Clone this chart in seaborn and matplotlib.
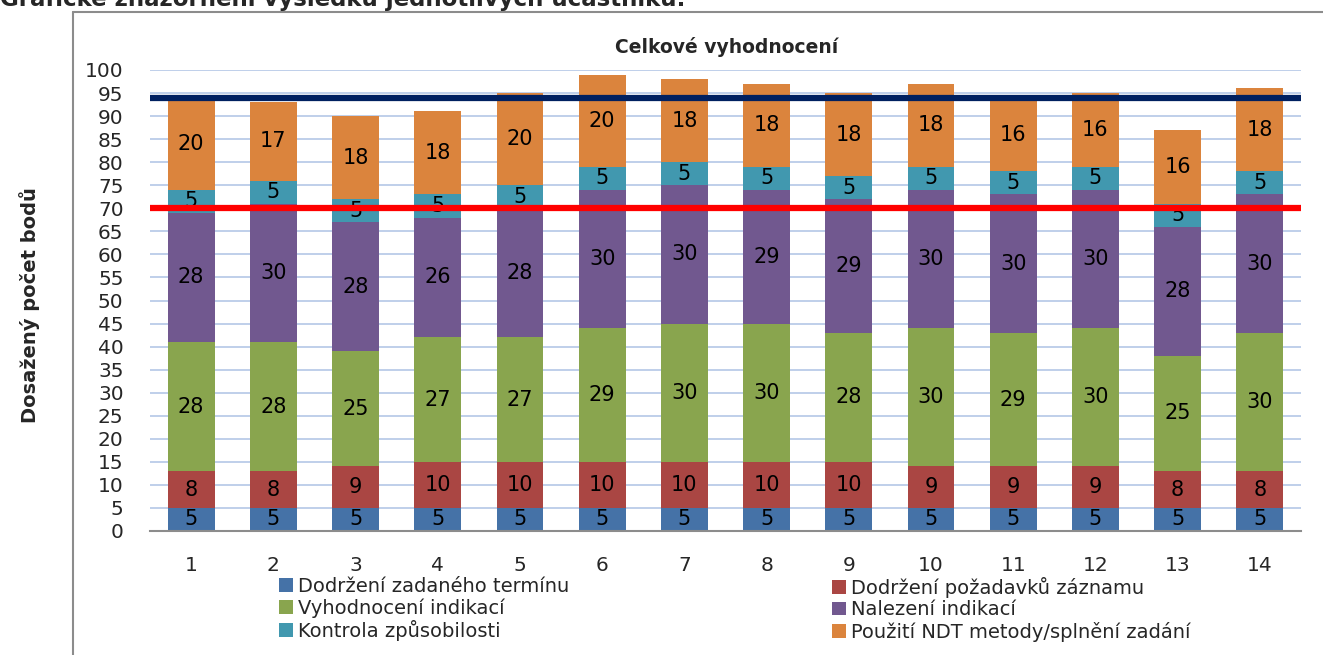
import numpy as np
import matplotlib
matplotlib.use("Agg")
import matplotlib.pyplot as plt
from matplotlib.patches import Patch
from matplotlib.lines import Line2D
import seaborn as sns

# data
ucastnici = ["1", "2", "3", "4", "5", "6", "7", "8", "9", "10", "11", "12", "13", "14"]
termin = [5, 5, 5, 5, 5, 5, 5, 5, 5, 5, 5, 5, 5, 5]
zaznam = [8, 8, 9, 10, 10, 10, 10, 10, 10, 9, 9, 9, 8, 8]
vyhodnoceni = [28, 28, 25, 27, 27, 29, 30, 30, 28, 30, 29, 30, 25, 30]
nalezeni = [28, 30, 28, 26, 28, 30, 30, 29, 29, 30, 30, 30, 28, 30]
kontrola = [5, 5, 5, 5, 5, 5, 5, 5, 5, 5, 5, 5, 5, 5]
ndt = [20, 17, 18, 18, 20, 20, 18, 18, 18, 18, 16, 16, 16, 18]
nazvy = [
    "Dodržení zadaného termínu",
    "Dodržení požadavků záznamu",
    "Vyhodnocení indikací",
    "Nalezení indikací",
    "Kontrola způsobilosti",
    "Použití NDT metody/splnění zadání",
]
limit_horni = 94
limit_dolni = 70
y_ticks = list(range(0, 101, 5))

barvy = ["#4572a7", "#aa4643", "#89a54e", "#71588f", "#4198af", "#db843d"]

sns.set_style("white")
plt.rcParams["font.family"] = ["DejaVu Sans"]

W, H = 1323, 655
fig = plt.figure(figsize=(W / 100, H / 100), dpi=100)
ax = fig.add_axes([150 / W, 1 - 531 / H, (1301 - 150) / W, (531 - 70) / H])

serie = [termin, zaznam, vyhodnoceni, nalezeni, kontrola, ndt]
bottom = np.zeros(len(ucastnici))
for nazev, hodnoty, barva in zip(nazvy, serie, barvy):
    sns.barplot(x=ucastnici, y=hodnoty, bottom=bottom, color=barva, width=0.57,
                errorbar=None, saturation=1, linewidth=0, ax=ax)
    ax.bar_label(ax.containers[-1], labels=[str(v) for v in hodnoty],
                 label_type="center", fontsize=15, color="black")
    bottom = bottom + np.array(hodnoty)

ax.axhline(limit_horni, color="#002060", linewidth=4.5, zorder=5)
ax.axhline(limit_dolni, color="#ff0000", linewidth=4.5, zorder=5)

ax.set_ylim(0, 100)
ax.set_xlim(-0.5, len(ucastnici) - 0.5)
ax.set_yticks(y_ticks)
ax.yaxis.grid(True, color="#bfcfea", linewidth=1.4)
ax.set_axisbelow(True)
for s in ["top", "right", "left"]:
    ax.spines[s].set_visible(False)
ax.spines["bottom"].set_color("#8c8c8c")
ax.spines["bottom"].set_linewidth(1.5)
ax.tick_params(axis="y", length=0, pad=19, labelsize=14.5)
ax.tick_params(axis="x", length=0, pad=18, labelsize=14.5)
ax.set_xlabel("")

fig.text(727 / W, 1 - 47 / H, "Celkové vyhodnocení", ha="center", va="center",
         fontsize=13.5, fontweight="bold")
fig.text(30 / W, 1 - 305 / H, "Dosažený počet bodů", ha="center", va="center",
         rotation=90, fontsize=14, fontweight="bold")
fig.text(0, 1 - 6 / H, "Grafické znázornění výsledků jednotlivých účastníků:",
         ha="left", va="baseline", fontsize=16.5, fontweight="bold")

# chart frame
fig.add_artist(Line2D([73 / W, 73 / W], [0, 1 - 12 / H], color="#8c8c8c",
                      linewidth=1.5, transform=fig.transFigure))
fig.add_artist(Line2D([73 / W, 1], [1 - 12 / H, 1 - 12 / H], color="#8c8c8c",
                      linewidth=1.5, transform=fig.transFigure))

handles = [Patch(facecolor=c, edgecolor="none") for c in barvy]
leg_kw = dict(frameon=False, fontsize=14, handlelength=0.72, handleheight=0.72,
              handletextpad=0.25, labelspacing=0.12, borderpad=0, borderaxespad=0,
              loc="upper left")
fig.legend([handles[0], handles[2], handles[4]], [nazvy[0], nazvy[2], nazvy[4]],
           bbox_to_anchor=(279 / W, 1 - 577 / H), **leg_kw)
fig.legend([handles[1], handles[3], handles[5]], [nazvy[1], nazvy[3], nazvy[5]],
           bbox_to_anchor=(832 / W, 1 - 577 / H), **leg_kw)

fig.savefig("out.png", dpi=100)
